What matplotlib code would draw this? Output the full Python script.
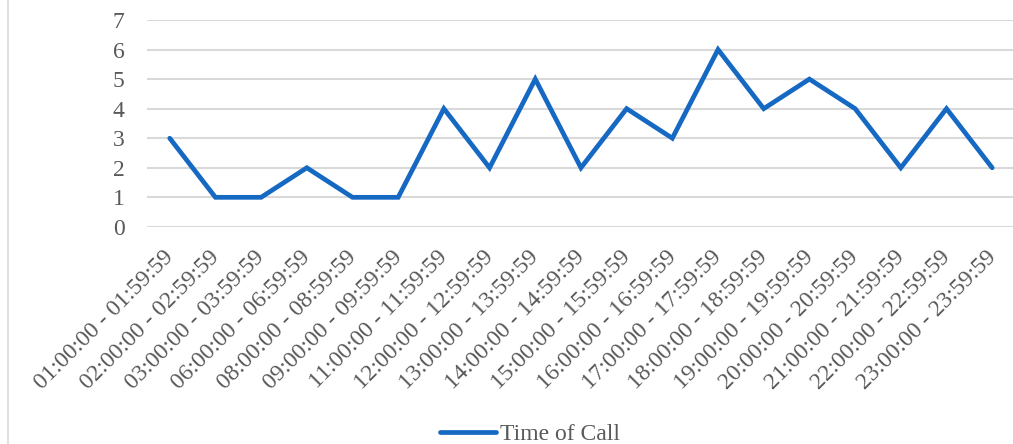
import matplotlib.pyplot as plt
import matplotlib.transforms as mtransforms
from matplotlib.lines import Line2D

hours = ['01:00:00 - 01:59:59', '02:00:00 - 02:59:59', '03:00:00 - 03:59:59',
         '06:00:00 - 06:59:59', '08:00:00 - 08:59:59', '09:00:00 - 09:59:59',
         '11:00:00 - 11:59:59', '12:00:00 - 12:59:59', '13:00:00 - 13:59:59',
         '14:00:00 - 14:59:59', '15:00:00 - 15:59:59', '16:00:00 - 16:59:59',
         '17:00:00 - 17:59:59', '18:00:00 - 18:59:59', '19:00:00 - 19:59:59',
         '20:00:00 - 20:59:59', '21:00:00 - 21:59:59', '22:00:00 - 22:59:59',
         '23:00:00 - 23:59:59']
calls = [3, 1, 1, 2, 1, 1, 4, 2, 5, 2, 4, 3, 6, 4, 5, 4, 2, 4, 2]

plt.rcParams['font.family'] = 'Liberation Serif'
grey = '#595959'
blue = '#1569C2'

fig = plt.figure(figsize=(10.13, 4.44), dpi=100)
ax = fig.add_axes([0.145, 0.489, 0.857, 0.466])

x = range(len(calls))
ax.plot(x, calls, color=blue, linewidth=3.4, solid_joinstyle='miter',
        solid_capstyle='round', label='Time of Call')

ax.set_xlim(-0.5, len(calls) - 0.5)
ax.set_ylim(0, 7)
ax.set_yticks(range(8))
ax.grid(axis='y', color='#D9D9D9', linewidth=1.5)
ax.set_axisbelow(True)
for s in ax.spines.values():
    s.set_visible(False)
ax.tick_params(length=0, colors=grey, labelsize=17)
ax.tick_params(axis='y', pad=16)
ax.tick_params(axis='x', pad=14)
ax.set_xticks(list(x))
ax.set_xticklabels(hours, rotation=45, ha='right', va='top', rotation_mode='anchor')
# nudge the slanted labels a little to the left
shift = mtransforms.ScaledTranslation(-7 / 100, 0, fig.dpi_scale_trans)
for lbl in ax.get_xticklabels():
    lbl.set_transform(lbl.get_transform() + shift)

leg = fig.legend(loc='lower center', bbox_to_anchor=(0.523, -0.05), frameon=False,
                 fontsize=17, handlelength=2.4, handletextpad=0.15)
for t in leg.get_texts():
    t.set_color(grey)

fig.add_artist(Line2D([8 / 1013, 8 / 1013], [0, 1], color='#D9D9D9', linewidth=1.2))

fig.savefig('out.png', dpi=100)
